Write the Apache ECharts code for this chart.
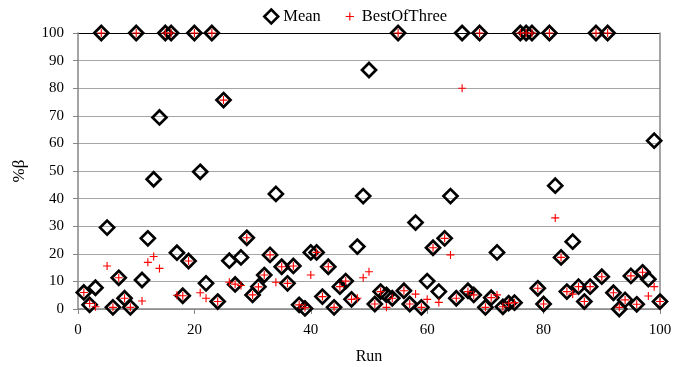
<!DOCTYPE html>
<html><head><meta charset="utf-8">
<script src="https://cdn.jsdelivr.net/npm/echarts@6/dist/echarts.min.js"></script>
<style>html,body{margin:0;padding:0;background:#fff}#c{width:675px;height:367px}</style>
</head><body><div id="c"></div>
<script>
const runs = [];
for (let i = 1; i <= 100; i++) runs.push(i);
const meanValues = [6,1.5,7.7,100,29.5,0.6,11.3,3.9,0.6,100,
 10.5,25.6,47,69.4,100,100,20.4,4.8,17.4,100,
 49.7,9.3,100,2.7,75.7,17.5,8.9,18.7,25.8,5.1,
 8.1,12.3,19.6,41.7,15.3,9.3,15.6,1.5,0.2,20.5,
 20.5,4.5,15.3,0.6,8.1,10.1,3.5,22.6,40.9,86.6,
 1.8,6.3,5.1,3.9,100,6.6,1.8,31.3,0.6,10.1,
 22.2,6.3,25.6,40.9,3.9,100,6.6,5.1,100,0.6,
 4.1,20.5,0.8,2.1,2.3,100,100,100,7.5,1.8,
 100,44.7,18.7,6.3,24.4,8.1,2.7,8.1,100,11.7,
 100,5.9,0,3.3,12,1.7,13.3,10.8,61,2.7];
const bestValues = [6,2,0.8,100,15.6,0.6,11.3,3.9,0.6,100,
 2.9,16.9,19,14.7,100,100,5,4.8,17.4,100,
 5.9,3.9,100,2.7,75.7,9.7,9,8.5,25.8,5.1,
 8,12.3,19.6,9.7,15.3,9.3,15.6,1.5,0.5,12.3,
 20.5,4.5,15.3,0.6,8.1,10.1,3.5,3.9,11.3,13.5,
 1.8,6.3,0.6,3.9,100,6.6,1.8,5.4,0.6,3.5,
 22.2,2.4,25.6,19.6,3.9,80,6.3,5.1,100,0.6,
 4.1,5.1,0.8,2.1,2.3,100,100,100,7.5,1.8,
 100,33,18.7,6.3,5.4,8.1,2.7,8.1,100,11.7,
 100,5.9,0.6,3.3,12,1.7,13.3,4.7,8.1,2.7];
const xTicks = [0,20,40,60,80,100];
const yTicks = [0,10,20,30,40,50,60,70,80,90,100];

const font = 'Liberation Serif';
const plusPath = 'path://M43,0H57V43H100V57H57V100H43V57H0V43H43Z';
const plusLegendPath = 'path://M-35,-35L-35,-35M135,135L135,135M43,0H57V43H100V57H57V100H43V57H0V43H43Z';
const chart = echarts.init(document.getElementById('c'));
const gridColors = yTicks.map((v,i)=> i === yTicks.length-1 ? '#000000' : '#a6a6a6');
chart.setOption({
  animation:false,
  textStyle:{fontFamily:font},
  grid:{left:78,right:15,top:33,bottom:58,containLabel:false,outerBoundsMode:'none'},
  legend:{
    top:3, left:258, itemGap:22, itemWidth:14, itemHeight:14,
    textStyle:{fontFamily:font,fontSize:16.5,color:'#000'},
    data:[
      {name:'Mean',icon:'diamond',itemStyle:{color:'#fff',borderColor:'#000',borderWidth:2.5}},
      {name:'BestOfThree',icon:plusLegendPath,itemStyle:{color:'#ff0000'}}
    ]
  },
  xAxis:{
    type:'value',min:xTicks[0],max:xTicks[xTicks.length-1],interval:20,
    name:'Run',nameLocation:'middle',nameGap:40,
    nameTextStyle:{fontFamily:font,fontSize:16,color:'#000'},
    axisLine:{show:true,lineStyle:{color:'#868686',width:1.5}},
    axisTick:{show:true,length:5,lineStyle:{color:'#868686'}},
    axisLabel:{fontFamily:font,fontSize:15,color:'#000',margin:14},
    splitLine:{show:false}
  },
  yAxis:[{
    type:'value',min:yTicks[0],max:yTicks[yTicks.length-1],interval:10,
    name:'%β',nameLocation:'middle',nameGap:50,
    nameTextStyle:{fontFamily:font,fontSize:17,color:'#000'},
    axisLine:{show:true,lineStyle:{color:'#868686',width:1.5}},
    axisTick:{show:true,length:5,lineStyle:{color:'#868686'}},
    axisLabel:{fontFamily:font,fontSize:15,color:'#000',margin:14},
    splitLine:{show:true,lineStyle:{color:gridColors,width:1.2}}
  },{
    type:'value',min:0,max:100,interval:10,position:'right',
    axisLine:{show:true,lineStyle:{color:'#868686',width:1.5}},
    axisTick:{show:false},axisLabel:{show:false},splitLine:{show:false}
  }],
  series:[
    {name:'Mean',type:'scatter',symbol:'diamond',symbolSize:14,
     itemStyle:{color:'rgba(255,255,255,0)',borderColor:'#000',borderWidth:2.7,opacity:1},
     data:runs.map((r,i)=>[r,meanValues[i]]),z:2},
    {name:'BestOfThree',type:'scatter',symbol:plusPath,symbolSize:8,
     itemStyle:{color:'#ff0000',opacity:1},
     data:runs.map((r,i)=>[r,bestValues[i]]),z:3}
  ]
});
</script></body></html>
